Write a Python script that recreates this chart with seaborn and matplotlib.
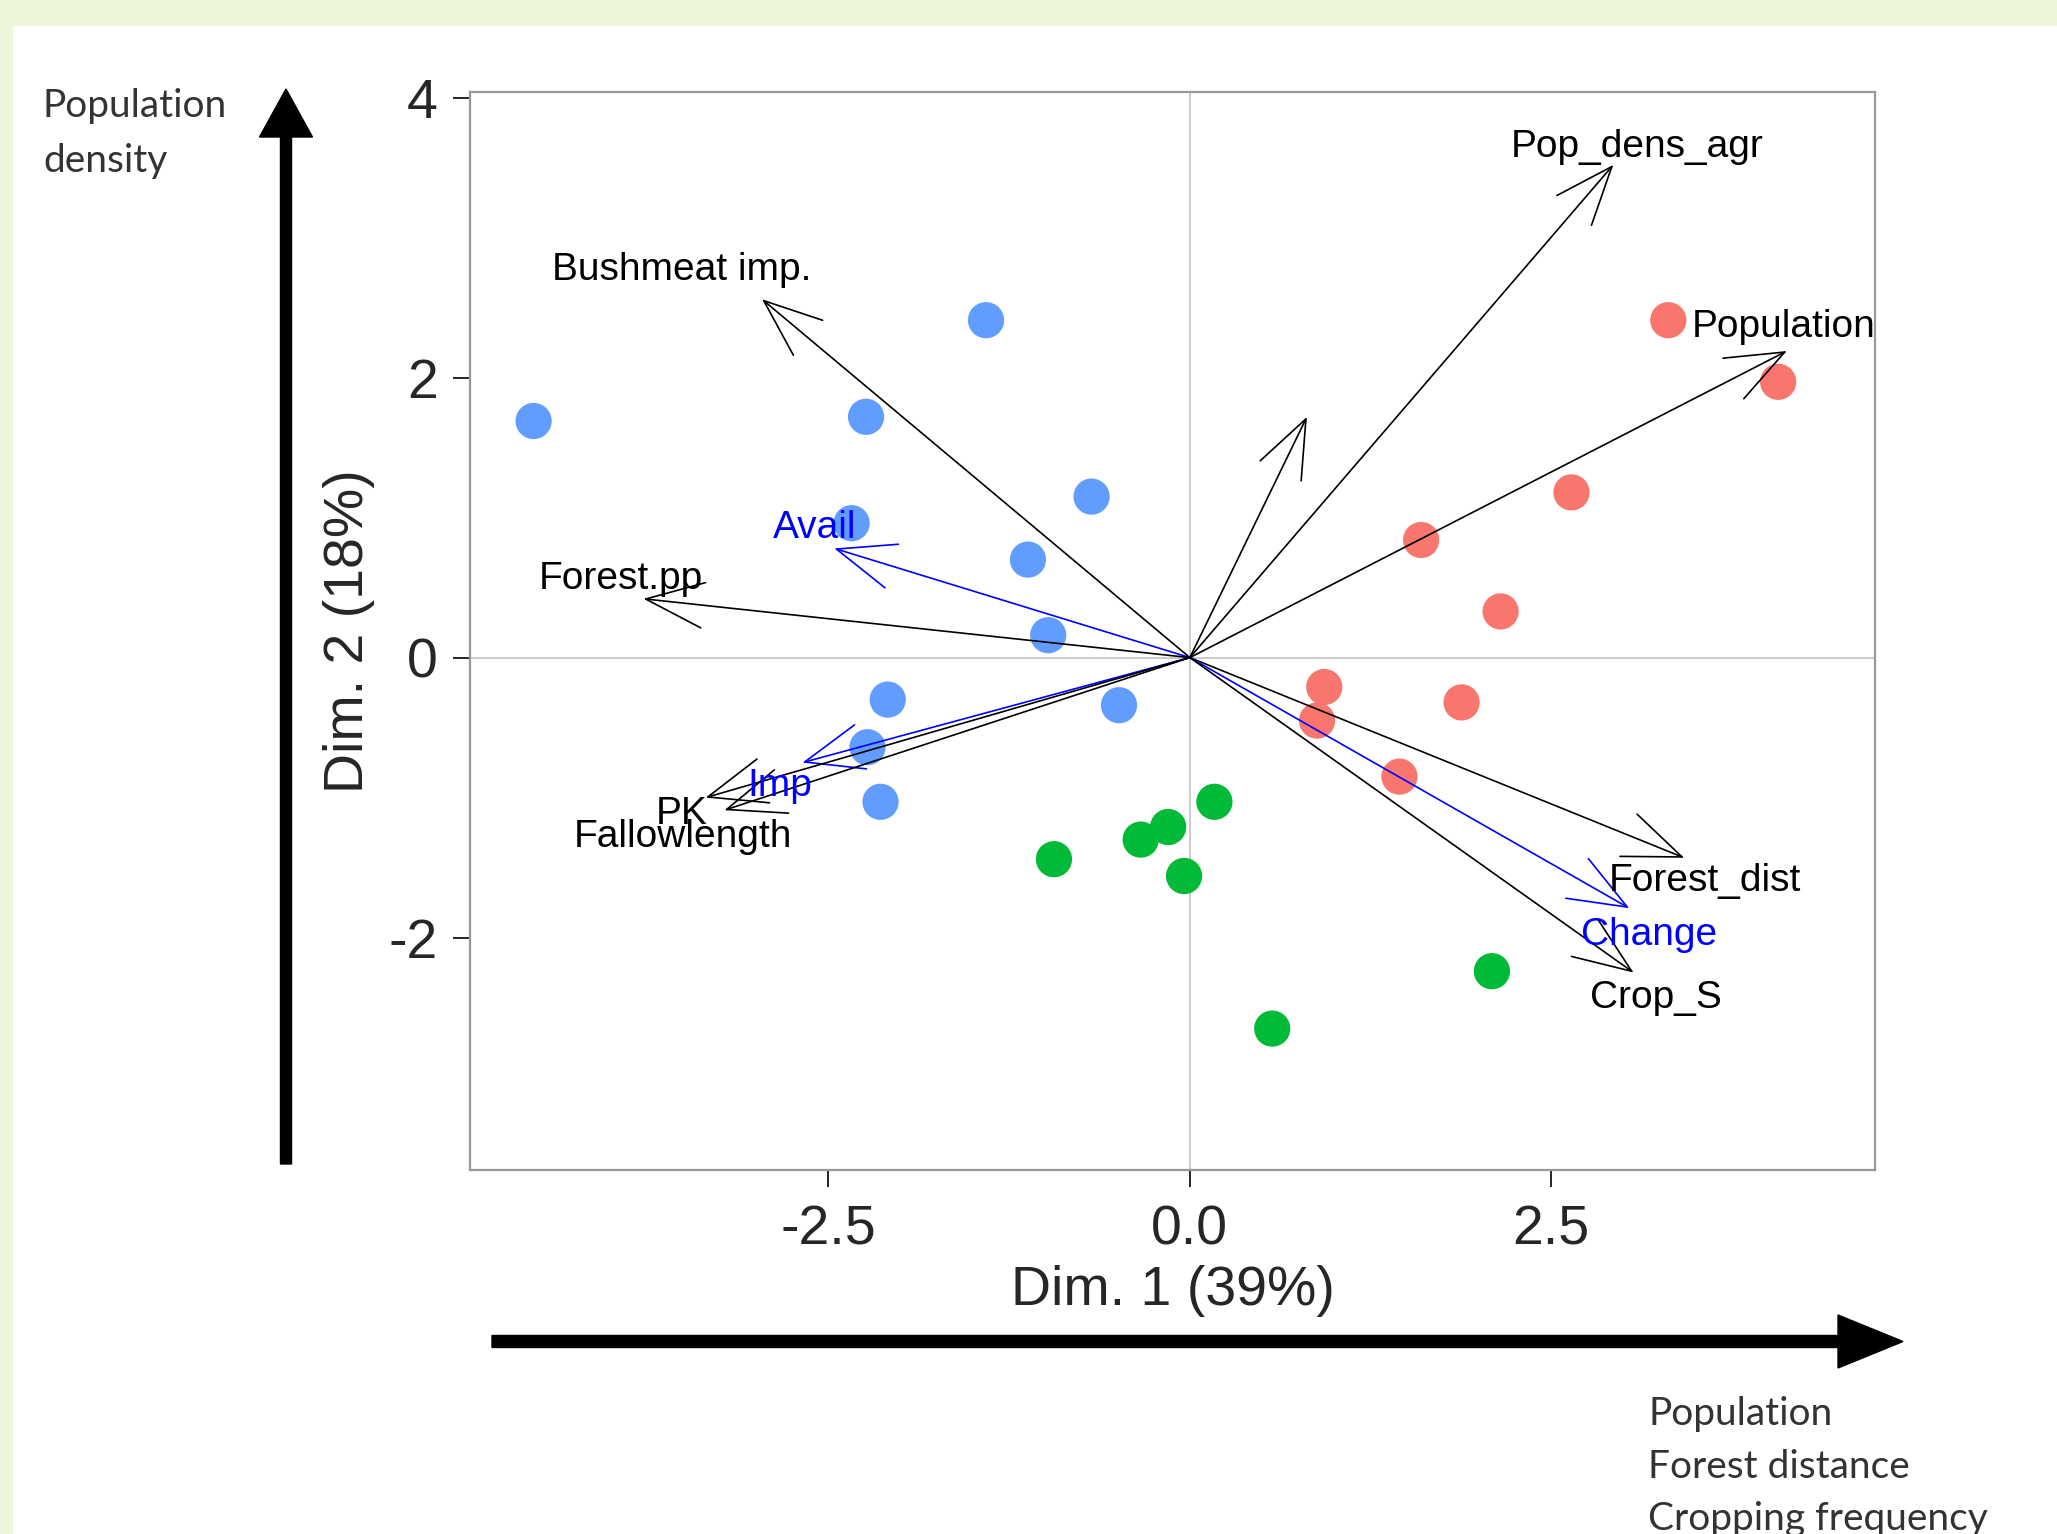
import numpy as np
import pandas as pd
import matplotlib
matplotlib.use("Agg")
import matplotlib.pyplot as plt
from matplotlib.patches import FancyArrow, Rectangle
import seaborn as sns

# ---- individuals (PCA scores) by cluster ----
blue_x = [-1.41, -4.54, -2.24, -0.68, -2.34, -1.12, -0.98, -2.09, -0.49, -2.23, -2.14]
blue_y = [2.41, 1.69, 1.72, 1.15, 0.96, 0.70, 0.16, -0.30, -0.34, -0.64, -1.03]
red_x = [3.31, 4.07, 2.64, 1.60, 2.15, 0.93, 0.88, 1.88, 1.45]
red_y = [2.41, 1.97, 1.18, 0.84, 0.33, -0.21, -0.45, -0.32, -0.85]
green_x = [0.17, -0.15, -0.34, -0.94, -0.04, 2.09, 0.57]
green_y = [-1.03, -1.21, -1.30, -1.44, -1.56, -2.24, -2.65]

# ---- variable loadings (arrows) ----
var_names = ["Pop_dens_agr", "Population", "", "Bushmeat imp.", "Avail", "Forest.pp",
             "Imp", "PK", "Fallowlength", "Forest_dist", "Change", "Crop_S"]
var_x = [2.93, 4.13, 0.81, -2.96, -2.46, -3.78, -2.68, -3.35, -3.22, 3.42, 3.04, 3.07]
var_y = [3.52, 2.19, 1.72, 2.56, 0.78, 0.42, -0.75, -1.00, -1.09, -1.43, -1.79, -2.25]
supplementary = ["Avail", "Imp", "Change"]

# ---- axis text ----
x_ticks = [-2.5, 0.0, 2.5]
x_tick_labels = ["-2.5", "0.0", "2.5"]
y_ticks = [4, 2, 0, -2]
y_tick_labels = ["4", "2", "0", "-2"]
x_title = "Dim. 1 (39%)"
y_title = "Dim. 2 (18%)"
y_side_note = ["Population", "density"]
x_side_note = ["Population", "Forest distance", "Cropping frequency"]

# label offsets from arrow tips, in points
label_offsets = [(17, 13), (-2, 17), (0, 0), (-58, 21), (-14, 15), (-16, 14),
                 (-16, -17), (-17, -12), (-30, -19), (15, -17), (14, -19), (16, -18)]

sns.set_style("white")
plt.rcParams["font.family"] = ["Liberation Sans", "DejaVu Sans"]
plt.rcParams["axes.unicode_minus"] = False

W, H = 2057, 1534
fig = plt.figure(figsize=(W / 100, H / 100), dpi=100, facecolor="white")

# light green page margin
fig.add_artist(Rectangle((0, 1 - 26 / H), 1, 26 / H, transform=fig.transFigure,
                         facecolor="#ECF6DA", edgecolor="none", zorder=0))
fig.add_artist(Rectangle((0, 0), 13 / W, 1, transform=fig.transFigure,
                         facecolor="#ECF6DA", edgecolor="none", zorder=0))

ax = fig.add_axes([470 / W, 1 - 1170 / H, (1875 - 470) / W, (1170 - 92) / H])

df = pd.DataFrame({
    "x": blue_x + red_x + green_x,
    "y": blue_y + red_y + green_y,
    "cluster": ["1"] * len(blue_x) + ["2"] * len(red_x) + ["3"] * len(green_x),
})
palette = {"1": "#619CFF", "2": "#F8766D", "3": "#00BA38"}

ax.axhline(0, color="#BDBDBD", lw=1.1, zorder=1)
ax.axvline(0, color="#BDBDBD", lw=1.1, zorder=1)

sns.scatterplot(data=df, x="x", y="y", hue="cluster", palette=palette, s=680,
                linewidth=0, legend=False, ax=ax, zorder=2)

for name, vx, vy, off in zip(var_names, var_x, var_y, label_offsets):
    col = "#0000FF" if name in supplementary else "black"
    ax.annotate("", xy=(vx, vy), xytext=(0, 0),
                arrowprops=dict(arrowstyle="->,head_length=2.08,head_width=0.82",
                                mutation_scale=20, color=col, lw=1.2,
                                shrinkA=0, shrinkB=0), zorder=3)
    if name:
        ax.annotate(name, xy=(vx, vy), xytext=off, textcoords="offset points",
                    ha="center", va="center", fontsize=28, color=col, zorder=4)

ax.set_xlim(-4.98, 4.74)
ax.set_ylim(-3.66, 4.04)
ax.set_xticks(x_ticks)
ax.set_xticklabels(x_tick_labels)
ax.set_yticks(y_ticks)
ax.set_yticklabels(y_tick_labels)
ax.tick_params(axis="both", direction="out", length=12, width=1.2, color="black",
               labelsize=40, pad=11, bottom=True, left=True)
ax.tick_params(axis="x", pad=13)
ax.set_xlabel(x_title, fontsize=40, labelpad=6)
ax.set_ylabel(y_title, fontsize=40, labelpad=10)
for sp in ax.spines.values():
    sp.set_color("#999999")
    sp.set_linewidth(1.6)

# interpretive axis arrows outside the plot
fig.add_artist(FancyArrow(2.86, (H - 1164) / 100, 0, (1164 - 89) / 100, width=0.11,
                          head_width=0.53, head_length=0.48, length_includes_head=True,
                          color="black", transform=fig.dpi_scale_trans))
fig.add_artist(FancyArrow(4.92, (H - 1341.5) / 100, (1903 - 492) / 100, 0, width=0.12,
                          head_width=0.53, head_length=0.65, length_includes_head=True,
                          color="black", transform=fig.dpi_scale_trans))

note_font = dict(family=["Lato", "DejaVu Sans"], fontsize=28, color="#333333",
                 va="baseline", ha="left")
for line, base in zip(y_side_note, [117, 172]):
    fig.text(43 / W, 1 - base / H, line, **note_font)
for line, base in zip(x_side_note, [1425, 1478, 1530]):
    fig.text(1648 / W, 1 - base / H, line, **note_font)

fig.savefig("out.png", dpi=100, facecolor="white")
